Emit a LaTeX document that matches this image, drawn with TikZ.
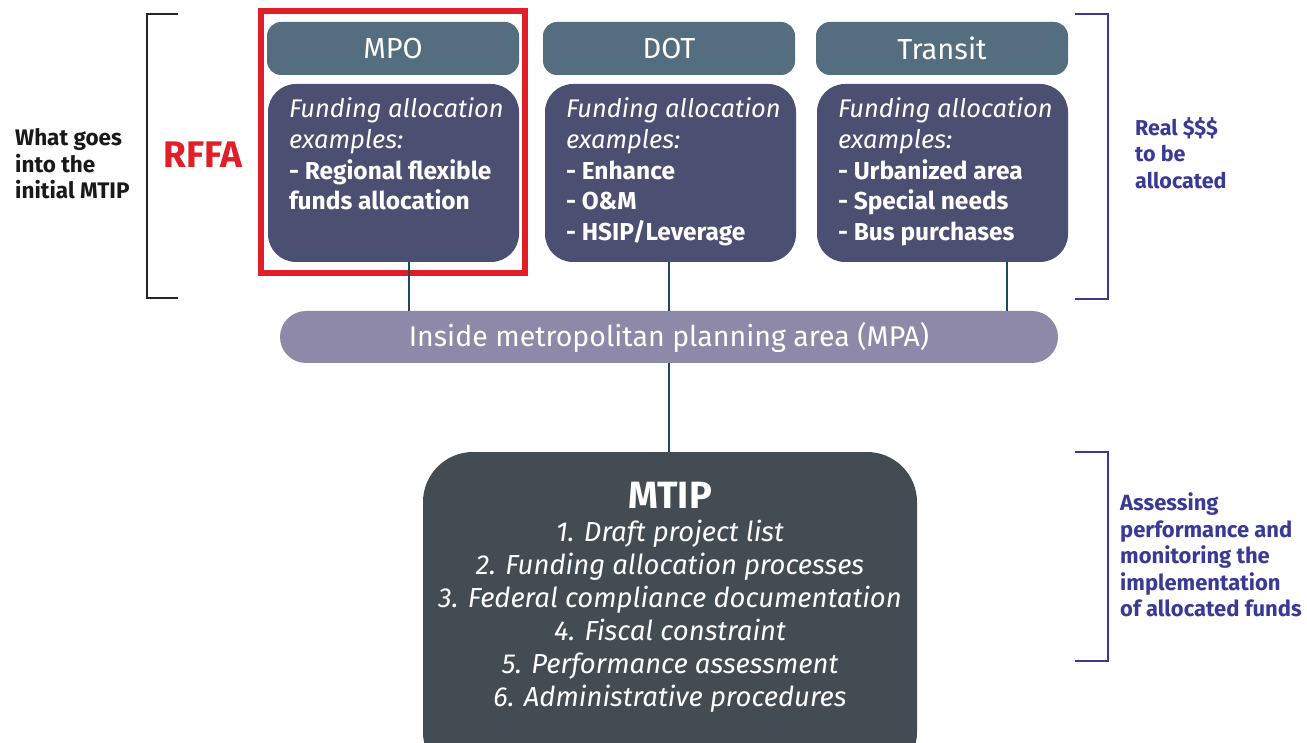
\documentclass[tikz,border=0pt]{standalone}
\usepackage{fontspec}
\setmainfont{Fira Sans}
\usetikzlibrary{positioning,calc,fit}
\definecolor{headfill}{RGB}{84,110,128}
\definecolor{bodyfill}{RGB}{75,79,114}
\definecolor{mpafill}{RGB}{142,137,168}
\definecolor{mtipfill}{RGB}{67,75,83}
\definecolor{linkcol}{RGB}{29,74,99}
\definecolor{indigo}{RGB}{56,58,150}
\definecolor{rffared}{RGB}{226,30,40}
\newcommand{\fund}[1]{\parbox[c][150pt][t]{209pt}{\raggedright{\itshape\fontsize{25.5}{30.7}\selectfont\mbox{Funding allocation}\\examples:}\\ \bfseries #1}}

\begin{document}
\begin{tikzpicture}[x=1pt,y=-1pt,
  head/.style={fill=headfill,rounded corners=14pt,minimum width=252pt,minimum height=53pt,inner sep=0pt,text=white,font=\fontsize{29}{32}\selectfont},
  body/.style={fill=bodyfill,rounded corners=28pt,minimum width=251pt,minimum height=178pt,inner sep=0pt,text=white,font=\fontsize{24.5}{30.7}\selectfont},
  link/.style={draw=linkcol,line width=2pt},
  brak/.style={line width=2.5pt},
  side/.style={font=\bfseries\fontsize{22.5}{26.5}\selectfont,align=left,anchor=west,inner sep=0pt}]
  \clip (0,0) rectangle (1307,743);
  \fill[white] (0,0) rectangle (1307,743);

  % the three sources of funds
  \node[head] (mpo) at (393,48.5) {MPO};
  \node[body] (mpobody) at (393.5,173) {\fund{- Regional flexible\\funds allocation}};
  \node[head] (dot) at (669,48.5) {DOT};
  \node[body] (dotbody) at (670.5,173) {\fund{- Enhance\\- O\&M\\- HSIP/Leverage}};
  \node[head] (transit) at (942,48.5) {Transit};
  \node[body] (transitbody) at (942.5,173) {\fund{- Urbanized area\\- Special needs\\- Bus purchases}};
  \node[draw=rffared,line width=6pt,inner xsep=5.5pt,inner ysep=11pt,fit=(mpo)(mpobody)] (rffabox) {};

  \node[fill=mpafill,rounded corners=26pt,minimum width=778pt,minimum height=52pt,inner sep=0pt,text=white,font=\fontsize{28.5}{30}\selectfont] (mpa) at (669,337) {Inside metropolitan planning area (MPA)};
  \draw[link] ([xshift=15pt]mpobody.south) -- ([xshift=15pt]mpobody.south |- mpa.north);
  \draw[link] ([xshift=-1.5pt]dotbody.south) -- ([xshift=-1.5pt]dotbody.south |- mpa.north);
  \draw[link] ([xshift=64.5pt]transitbody.south) -- ([xshift=64.5pt]transitbody.south |- mpa.north);

  % MTIP box runs off the bottom
  \node[fill=mtipfill,rounded corners=50pt,minimum width=494pt,minimum height=330pt,inner sep=0pt] (mtip) at (670,617) {};
  \node[anchor=north,inner sep=0pt,text=white,align=center,font=\fontsize{27.5}{33}\selectfont\itshape] (mtiptext) at (670,482)
    {{\upshape\bfseries\fontsize{38}{38}\selectfont MTIP}\\[0pt] 1. Draft project list\\ 2. Funding allocation processes\\ 3. Federal compliance documentation\\ 4. Fiscal constraint\\ 5. Performance assessment\\ 6. Administrative procedures};
  \draw[link] (mpa.south) -- (mpa.south |- mtip.north);

  % brackets and side notes
  \draw[brak,black!85] (178,14) -- (147,14) -- (147,298) -- (178,298);
  \node[side,black!90] (goes) at (15,164) {What goes\\into the\\initial MTIP};
  \node[side,rffared,font=\bfseries\fontsize{37}{40}\selectfont] (rffa) at (163,155) {RFFA};
  \draw[brak,indigo,line width=2pt] (1075,14) -- (1108,14) -- (1108,299) -- (1075,299);
  \node[side,indigo,font=\bfseries\fontsize{21.5}{26.5}\selectfont] (real) at (1135,153) {Real \$\$\$\\to be\\allocated};
  \draw[brak,indigo,line width=2pt] (1075,452) -- (1108,452) -- (1108,661) -- (1075,661);
  \node[side,indigo,font=\bfseries\fontsize{22}{26.5}\selectfont] (assess) at (1120,555) {Assessing\\performance and\\monitoring the\\implementation\\of allocated funds};
\end{tikzpicture}
\end{document}
